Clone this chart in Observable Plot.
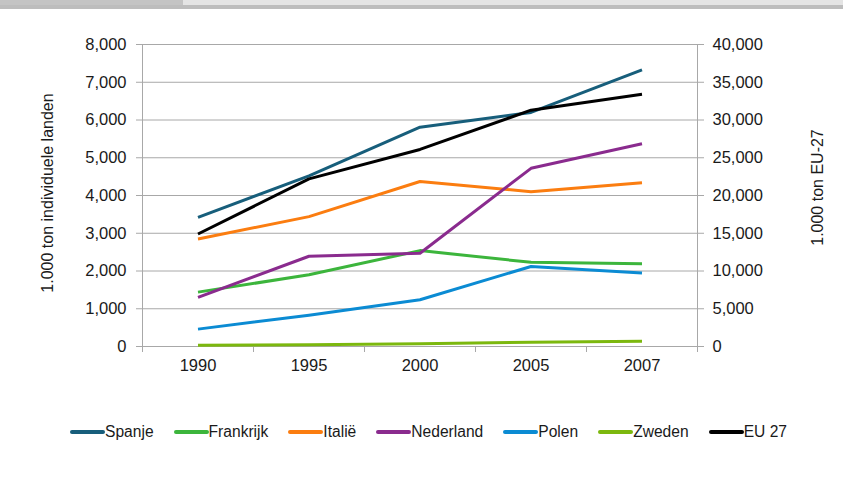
<!DOCTYPE html>
<html>
<head>
<meta charset="utf-8">
<script src="https://cdn.jsdelivr.net/npm/d3@7"></script>
<script src="https://cdn.jsdelivr.net/npm/@observablehq/plot@0.6"></script>
<style>
  html, body { margin: 0; padding: 0; background: #fff; }
  body { width: 843px; height: 480px; position: relative; overflow: hidden; font-family: "Liberation Sans", Arial, sans-serif; }
  #topbar { position: absolute; left: 0; top: 0; width: 843px; height: 5px; background: #e4e4e4; }
  #topbar .dark { position: absolute; left: 0; top: 0; width: 183px; height: 5px; background: #c4c4c4; }
  #topbar2 { position: absolute; left: 0; top: 5px; width: 843px; height: 4px; background: #bdbdbd; }
  #legend { position: absolute; left: 70px; top: 423px; display: flex; align-items: center; font-size: 15.6px; color: #1a1a1a; }
  #legend .item { display: flex; align-items: center; margin-right: 20px; }
  #legend .sw { display: inline-block; width: 35px; height: 4px; border-radius: 2px; }
  #chart { position: absolute; left: 0; top: 0; }
</style>
</head>
<body>
<div id="chart"></div>
<div id="topbar"><div class="dark"></div></div>
<div id="topbar2"></div>
<div id="legend"></div>
<script>
const years = ["1990", "1995", "2000", "2005", "2007"];
const spanje    = [3420, 4520, 5810, 6200, 7330];
const frankrijk = [1440, 1900, 2540, 2230, 2190];
const italie    = [2850, 3440, 4370, 4100, 4340];
const nederland = [1300, 2390, 2470, 4720, 5370];
const polen     = [460, 830, 1240, 2120, 1950];
const zweden    = [35, 45, 70, 115, 140];
const eu27      = [14900, 22200, 26100, 31300, 33400];

const leftTicks = [0, 1000, 2000, 3000, 4000, 5000, 6000, 7000, 8000];
const rightFactor = 5; // right axis 0–40,000 maps onto left 0–8,000

const series = [
  {name: "Spanje", values: spanje, color: "#175e7b", right: false},
  {name: "Frankrijk", values: frankrijk, color: "#3cb53c", right: false},
  {name: "Italië", values: italie, color: "#fb7d10", right: false},
  {name: "Nederland", values: nederland, color: "#8a2b8e", right: false},
  {name: "Polen", values: polen, color: "#0b8bd3", right: false},
  {name: "Zweden", values: zweden, color: "#7cb80e", right: false},
  {name: "EU 27", values: eu27, color: "#000000", right: true}
];

const gridColor = "#a8a8a8";
const fmt = d3.format(",");

const lineMarks = series.map(s =>
  Plot.line(s.values.map((v, i) => ({i, v: s.right ? v / rightFactor : v})), {
    x: "i", y: "v", stroke: s.color, strokeWidth: 3, strokeLinejoin: "round", strokeLinecap: "butt"
  })
);

const chart = Plot.plot({
  width: 843,
  height: 400,
  marginLeft: 142,
  marginRight: 146,
  marginTop: 44,
  marginBottom: 54,
  x: {domain: [-0.5, years.length - 0.5], axis: null},
  y: {domain: [0, 8000], axis: null},
  style: {fontFamily: "'Liberation Sans', Arial, sans-serif", fontSize: "16px", color: "#1a1a1a", background: "white", overflow: "visible"},
  marks: [
    Plot.gridY(leftTicks, {stroke: gridColor, strokeOpacity: 1}),
    Plot.ruleX([-0.5, years.length - 0.5], {stroke: gridColor}),
    Plot.axisY(leftTicks, {anchor: "left", tickSize: 6, tickPadding: 10, stroke: gridColor, fill: "#1a1a1a", tickFormat: fmt, label: null, fontSize: 16.5}),
    Plot.axisY(leftTicks, {anchor: "right", tickSize: 6, tickPadding: 9, stroke: gridColor, fill: "#1a1a1a", tickFormat: d => fmt(d * rightFactor), label: null, fontSize: 16.5}),
    Plot.axisX(d3.range(-0.5, years.length, 1), {tickSize: 6, stroke: gridColor, tickFormat: () => "", label: null}),
    Plot.axisX(d3.range(0, years.length), {tickSize: 0, tickPadding: 13, fill: "#1a1a1a", tickFormat: i => years[i], label: null, fontSize: 16.5}),
    Plot.text(["1.000 ton individuele landen"], {frameAnchor: "left", textAnchor: "middle", dx: -95, dy: -2.5, rotate: -90, fontSize: 16, fill: "#1a1a1a"}),
    Plot.text(["1.000 ton EU-27"], {frameAnchor: "right", textAnchor: "middle", dx: 120, dy: -8, rotate: -90, fontSize: 16, fill: "#1a1a1a"}),
    ...lineMarks
  ]
});
document.getElementById("chart").appendChild(chart);

const legend = document.getElementById("legend");
series.forEach(s => {
  const item = document.createElement("div");
  item.className = "item";
  const sw = document.createElement("span");
  sw.className = "sw";
  sw.style.background = s.color;
  const t = document.createElement("span");
  t.textContent = s.name;
  item.appendChild(sw);
  item.appendChild(t);
  legend.appendChild(item);
});
</script>
</body>
</html>
